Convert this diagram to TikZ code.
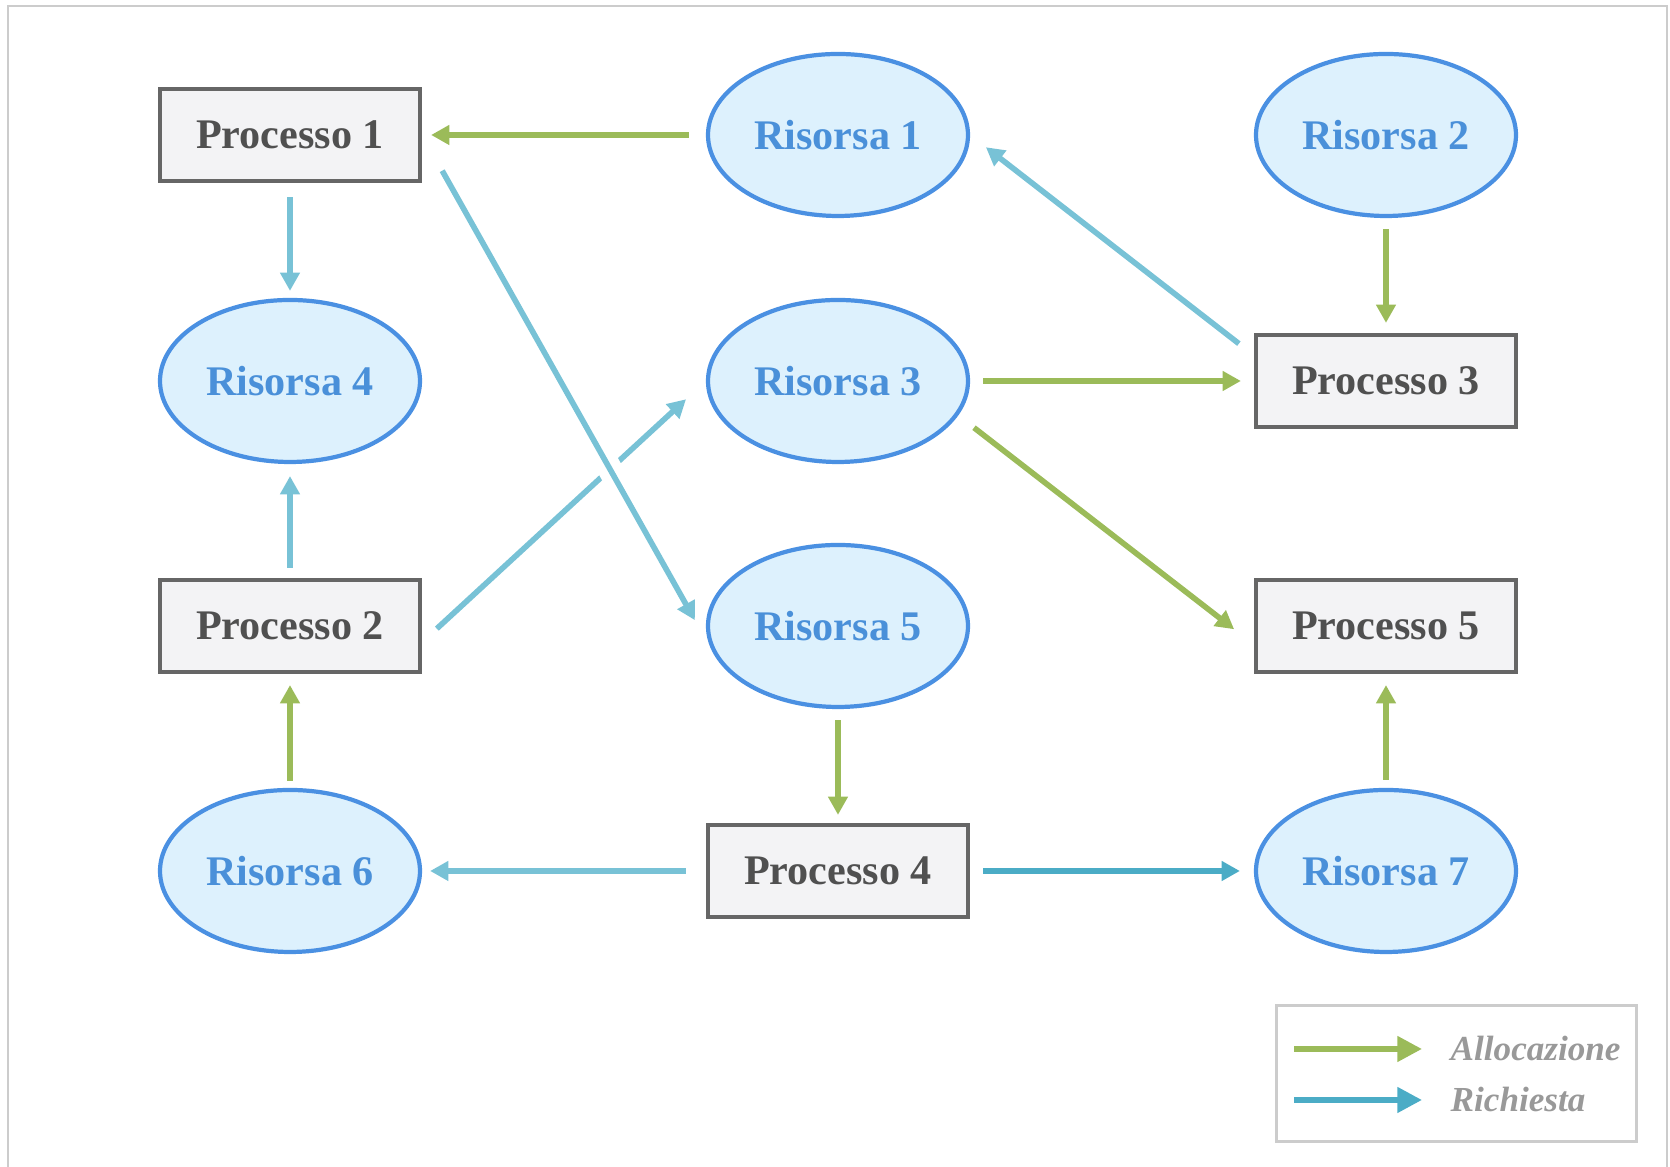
\documentclass[tikz,border=0pt]{standalone}
\usepackage{fontspec}
\setmainfont{Liberation Serif}
\usetikzlibrary{arrows.meta,shapes.geometric}
\definecolor{allocgreen}{HTML}{9BBB59}
\definecolor{reqblue}{HTML}{78C2D6}
\definecolor{reqdark}{HTML}{4BACC6}
\definecolor{resfill}{HTML}{DDF1FD}
\definecolor{resdraw}{HTML}{4A90E2}
\definecolor{restext}{HTML}{4A90D9}
\definecolor{procfill}{HTML}{F3F3F5}
\definecolor{procdraw}{HTML}{666666}
\definecolor{proctext}{HTML}{505050}
\definecolor{framegray}{HTML}{CCCCCC}
\definecolor{legendtext}{HTML}{999999}
\begin{document}
\begin{tikzpicture}
		\tikzstyle{proc}=[rectangle,draw=procdraw,fill=procfill,line width=1.2pt,minimum width=2.6cm,minimum height=0.92cm,inner sep=0pt,text=proctext,font=\fontsize{12}{14}\selectfont\bfseries]
		\tikzstyle{res}=[ellipse,draw=resdraw,fill=resfill,line width=1.2pt,minimum width=2.6cm,minimum height=1.62cm,inner sep=0pt,text=restext,font=\fontsize{12}{14}\selectfont\bfseries]
		\tikzstyle{alloc}=[allocgreen,line width=1.6pt,-{Triangle[length=5.2pt,width=5.4pt]},shorten <=0.12cm,shorten >=0.1cm]
		\tikzstyle{req}=[alloc,reqblue]
		\tikzstyle{reqstrong}=[alloc,reqdark]
		\tikzstyle{legendarrow}=[line width=1.6pt,-{Triangle[length=7pt,width=7pt]}]
		\tikzstyle{legendtxt}=[anchor=west,inner sep=0pt,text=legendtext,font=\fontsize{10}{12}\selectfont\bfseries\itshape]
		\useasboundingbox (0,0) rectangle (16.7,11.67);
		\draw[framegray,line width=0.6pt] (0.08,-0.2) -- (0.08,11.61) -- (16.67,11.61) -- (16.67,-0.2);
		\node[proc](p1)at(2.9,10.32){Processo 1};
		\node[res](r1)at(8.38,10.32){Risorsa 1};
		\node[res](r2)at(13.86,10.32){Risorsa 2};
		\node[res](r4)at(2.9,7.86){Risorsa 4};
		\node[res](r3)at(8.38,7.86){Risorsa 3};
		\node[proc](p3)at(13.86,7.86){Processo 3};
		\node[proc](p2)at(2.9,5.41){Processo 2};
		\node[res](r5)at(8.38,5.41){Risorsa 5};
		\node[proc](p5)at(13.86,5.41){Processo 5};
		\node[res](r6)at(2.9,2.96){Risorsa 6};
		\node[proc](p4)at(8.38,2.96){Processo 4};
		\node[res](r7)at(13.86,2.96){Risorsa 7};
		\draw[alloc,shorten <=0.17cm,shorten >=0.09cm]{
			(r1.west) -- (p1.east)
		};
		\draw[req,shorten <=0.14cm,shorten >=0.07cm]{
			(p1.south) -- (r4.north)
		};
		\draw[req,shorten <=0.1cm,shorten >=0.12cm]{
			(p2.north) -- (r4.south)
		};
		\draw[req,shorten <=0.2cm,shorten >=0.27cm]{
			(p2.-7) -- (r3.west)
		};
		\draw[req,shorten <=0.41cm,shorten >=0.44cm,preaction={draw=white,line width=7pt,-}]{
			(p1.east) -- (r5.195)
		};
		\draw[req,shorten <=0.19cm,shorten >=0.2cm]{
			(p3.169) -- (r1.east)
		};
		\draw[alloc,shorten <=0.11cm]{
			(r2.south) -- (p3.north)
		};
		\draw[alloc,shorten <=0.13cm,shorten >=0.13cm]{
			(r3.east) -- (p3.west)
		};
		\draw[alloc,shorten <=0.2cm,shorten >=0.25cm]{
			(r3.-16) -- (p5.188)
		};
		\draw[alloc,shorten <=0.11cm,shorten >=0.08cm]{
			(r5.south) -- (p4.north)
		};
		\draw[alloc,shorten <=0.07cm,shorten >=0.11cm]{
			(r6.north) -- (p2.south)
		};
		\draw[req,shorten <=0.2cm,shorten >=0.08cm]{
			(p4.west) -- (r6.east)
		};
		\draw[reqstrong,shorten <=0.13cm,shorten >=0.14cm]{
			(p4.east) -- (r7.west)
		};
		\draw[alloc,shorten <=0.08cm,shorten >=0.11cm]{
			(r7.north) -- (p5.south)
		};
		\node[draw=framegray,line width=0.8pt,minimum width=3.6cm,minimum height=1.36cm](legend)at(14.565,0.935){};
		\coordinate(la1)at(12.94,1.18);
		\coordinate(la2)at(14.22,1.18);
		\coordinate(lr1)at(12.94,0.67);
		\coordinate(lr2)at(14.22,0.67);
		\draw[legendarrow,allocgreen] (la1) -- (la2);
		\draw[legendarrow,reqdark] (lr1) -- (lr2);
		\node[legendtxt](lalloc)at(14.5,1.18){Allocazione};
		\node[legendtxt](lreq)at(14.5,0.67){Richiesta};
\end{tikzpicture}
\end{document}
